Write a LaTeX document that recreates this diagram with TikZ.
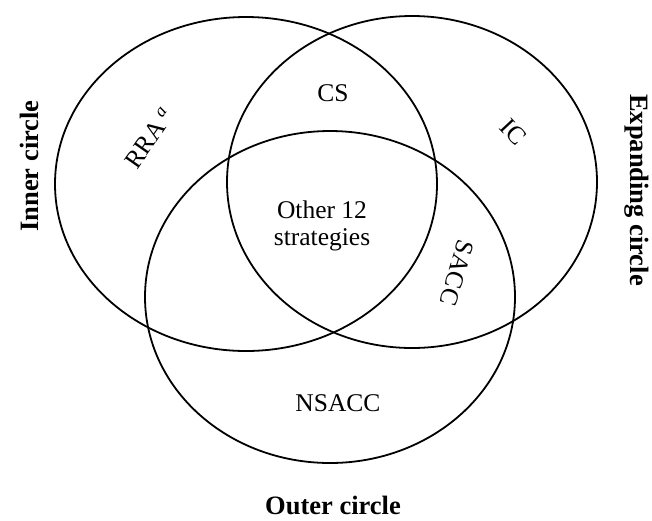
\documentclass[tikz,border=0pt]{standalone}
\usepackage{fontspec}
\setmainfont{Liberation Serif}
\usepackage{tikz}

\begin{document}
\begin{tikzpicture}[x=1pt,y=-1pt,
                    set/.style={draw,line width=1.8pt},
                    region label/.style={font=\fontsize{25.5}{27}\selectfont,inner sep=0pt},
                    circle name/.style={font=\fontsize{26.5}{28}\selectfont\bfseries,inner sep=0pt}]

  \useasboundingbox (0,0) rectangle (652,520);

  % the three circles
  \draw[set] (246,184) ellipse [x radius=191,y radius=167];
  \draw[set] (412,182) ellipse [x radius=185,y radius=166];
  \draw[set] (330,297) ellipse [x radius=185,y radius=166];

  % regions
  \node[region label] (cs) at (333,93) {CS};
  \node[region label,rotate=55] (rra) at (149,138) {RRA\,\textsuperscript{\textit{a}}};
  \node[region label,rotate=-47] (ic) at (513,132) {IC};
  \node[region label,align=center] (other) at (322,226) {Other 12\\strategies};
  \node[region label,rotate=-107] (sacc) at (457,273) {SACC};
  \node[region label] (nsacc) at (338,403) {NSACC};

  % circle names
  \node[circle name,rotate=90] (inner) at (29,166) {Inner circle};
  \node[circle name,rotate=-90] (expanding) at (637,190) {Expanding circle};
  \node[circle name] (outer) at (333,505) {Outer circle};
\end{tikzpicture}
\end{document}
